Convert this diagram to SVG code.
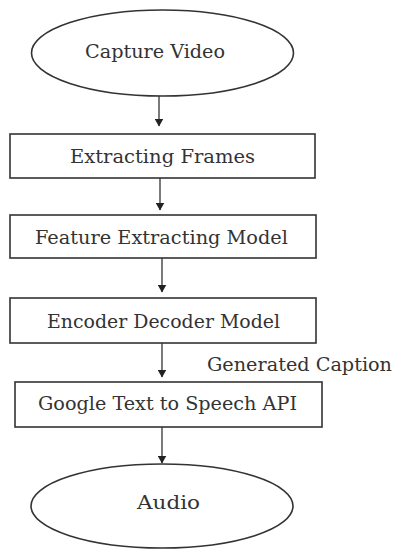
<svg xmlns="http://www.w3.org/2000/svg" width="395" height="550" viewBox="0 0 395 550">
<style>
.shape{fill:#fff;stroke:#333;stroke-width:1.6}
.lbl{font-family:"DejaVu Serif","Liberation Serif",serif;font-size:19px;fill:#333;text-anchor:middle}
.edge{stroke:#222;stroke-width:1.2;fill:none}
</style>
<defs>
<marker id="ah" markerWidth="8" markerHeight="9" refX="7.5" refY="4.5" orient="auto" markerUnits="userSpaceOnUse">
<path d="M0,0 L8,4.5 L0,9 Z" fill="#222"/>
</marker>
</defs>
<rect width="395" height="550" fill="#fff"/>
<g id="connectors">
<line class="edge" x1="159" y1="96" x2="159" y2="126" marker-end="url(#ah)"/>
<line class="edge" x1="160" y1="178" x2="160" y2="210" marker-end="url(#ah)"/>
<line class="edge" x1="162" y1="258" x2="162" y2="292" marker-end="url(#ah)"/>
<line class="edge" x1="162" y1="343" x2="162" y2="377" marker-end="url(#ah)"/>
<line class="edge" x1="162" y1="427" x2="162" y2="463" marker-end="url(#ah)"/>
<text x="207" y="371" class="lbl" style="text-anchor:start" textLength="185" lengthAdjust="spacingAndGlyphs">Generated Caption</text>
</g>
<g id="capture-video">
<ellipse class="shape" cx="162.5" cy="53" rx="131" ry="43"/>
<text x="155" y="58" class="lbl" textLength="140" lengthAdjust="spacingAndGlyphs">Capture Video</text>
</g>
<g id="extracting-frames">
<rect class="shape" x="10" y="134" width="305" height="44"/>
<text x="162.5" y="163" class="lbl" textLength="185" lengthAdjust="spacingAndGlyphs">Extracting Frames</text>
</g>
<g id="feature-extracting-model">
<rect class="shape" x="10" y="215" width="306" height="43"/>
<text x="161.5" y="244" class="lbl" textLength="253" lengthAdjust="spacingAndGlyphs">Feature Extracting Model</text>
</g>
<g id="encoder-decoder-model">
<rect class="shape" x="10" y="298" width="306" height="45"/>
<text x="163.5" y="328" class="lbl" textLength="233" lengthAdjust="spacingAndGlyphs">Encoder Decoder Model</text>
</g>
<g id="google-tts">
<rect class="shape" x="15" y="382" width="307" height="45"/>
<text x="167.5" y="410" class="lbl" textLength="259" lengthAdjust="spacingAndGlyphs">Google Text to Speech API</text>
</g>
<g id="audio">
<ellipse class="shape" cx="162" cy="506" rx="131" ry="42"/>
<text x="168.5" y="509" class="lbl" textLength="63" lengthAdjust="spacingAndGlyphs">Audio</text>
</g>
</svg>
